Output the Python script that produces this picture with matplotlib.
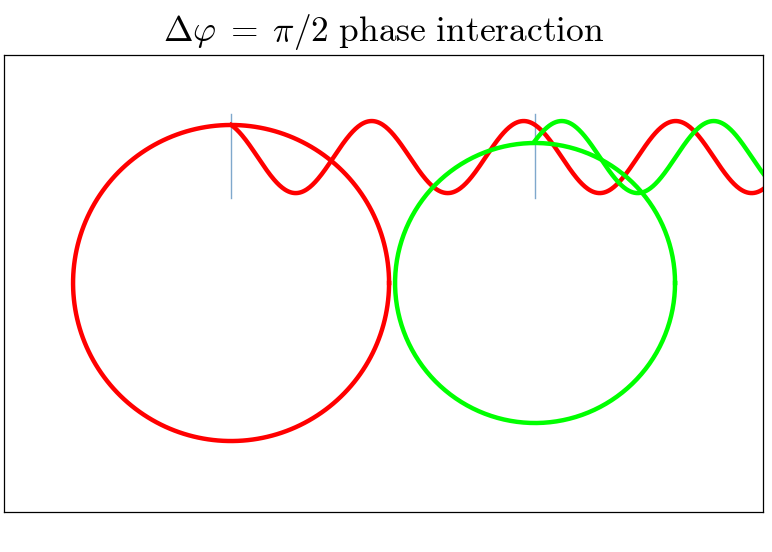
import numpy as np
import matplotlib
matplotlib.use("Agg")
import matplotlib.pyplot as plt

plt.rcParams['mathtext.fontset'] = 'cm'

# circles: centre x, centre y, radius (red radius = 1)
circle_x = [0.0, 1.924]
circle_y = [0.0, 0.0]
circle_r = [1.0, 0.886]
colors = ['#ff0000', '#00ff00']

# travelling waves leaving the top of each circle
wave_start = [0.0, 1.924]
wave_phase = [0.47, 0.47 - np.pi / 2]
wave_center = 0.797
wave_amp = 0.228
wavelength = 0.962

# thin marker lines at the wave sources
marker_lo = 0.538
marker_hi = 1.07

XLIM = (-1.437, 3.367)
YLIM = (-1.449, 1.443)

fig = plt.figure(figsize=(7.72, 5.52), dpi=100)
ax = fig.add_axes([0.0052, 0.0725, 0.9832, 0.8279])

t = np.linspace(0, 2 * np.pi, 400)
for cx, cy, r, x0, ph, c in zip(circle_x, circle_y, circle_r, wave_start, wave_phase, colors):
    ax.plot(cx + r * np.cos(t), cy + r * np.sin(t), color=c, lw=3.2, zorder=2)
    xs = np.linspace(x0, XLIM[1] + 0.1, 600)
    ys = wave_center + wave_amp * np.cos(2 * np.pi * xs / wavelength + ph)
    ax.plot(xs, ys, color=c, lw=3.2, zorder=2)
    ax.plot([x0, x0], [marker_lo, marker_hi], color='#7fa8cc', lw=1, zorder=1)

ax.set_xlim(*XLIM)
ax.set_ylim(*YLIM)
ax.set_xticks([])
ax.set_yticks([])
for s in ax.spines.values():
    s.set_linewidth(0.9)
ax.set_title(r'$\Delta\varphi\;=\;\pi/2\ \mathrm{phase\ interaction}$', fontsize=25.5, pad=10)

fig.savefig('out.png', dpi=100)
